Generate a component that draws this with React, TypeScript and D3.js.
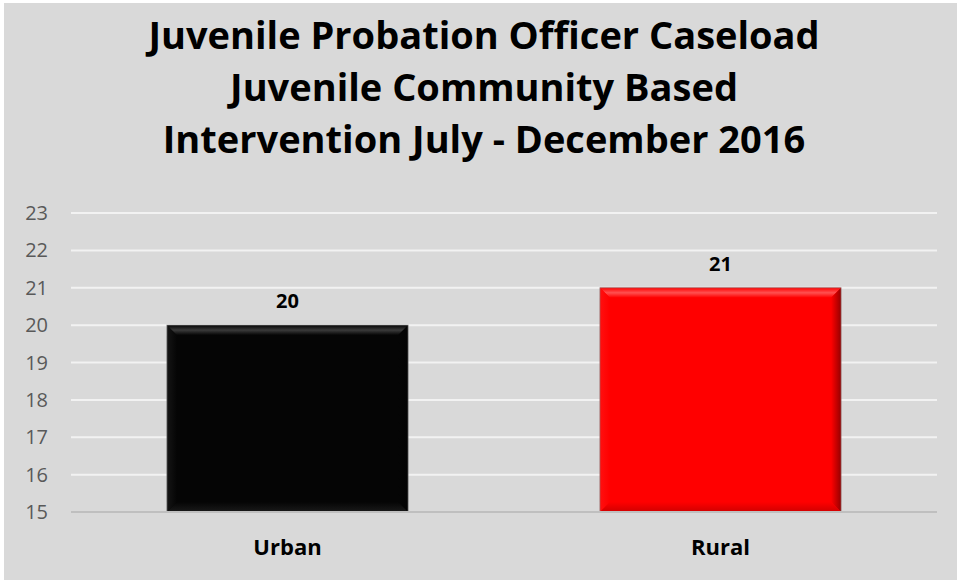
import React from "react";
import * as d3 from "d3";

const categories = ["Urban", "Rural"];
const values = [20, 21];
const barColors = ["#050505", "#ff0000"];
const yTicks = [15, 16, 17, 18, 19, 20, 21, 22, 23];
const titleLines = [
  "Juvenile Probation Officer Caseload",
  "Juvenile Community Based",
  "Intervention July - December 2016",
];

const W = 957;
const H = 580;
const plotLeft = 71;
const plotRight = 937;
const plotTop = 213;
const plotBottom = 512;

export default function App() {
  const x = d3.scaleBand<string>().domain(categories).range([plotLeft, plotRight]).paddingInner(0.443).paddingOuter(0.2215);
  const y = d3.scaleLinear().domain([15, 23]).range([plotBottom, plotTop]);
  const font = "'Open Sans', 'DejaVu Sans', sans-serif";
  const bev = 10;

  return (
    <svg width={W} height={H} style={{ position: "absolute", left: 0, top: 0, display: "block" }}>
      <defs>
        {barColors.map((c, i) => {
          const base = d3.color(c)!.formatHex();
          const dark = d3.rgb(c).darker(1.5).formatHex();
          return (
            <React.Fragment key={i}>
              <linearGradient id={`top${i}`} x1="0" y1="0" x2="0" y2="1">
                <stop offset="0" stopColor={base} />
                <stop offset="0.5" stopColor={i === 0 ? "#3a3a3a" : "#ff5050"} />
                <stop offset="1" stopColor={base} />
              </linearGradient>
              <linearGradient id={`right${i}`} x1="0" y1="0" x2="1" y2="0">
                <stop offset="0" stopColor={base} />
                <stop offset="1" stopColor={dark} />
              </linearGradient>
              <linearGradient id={`left${i}`} x1="0" y1="0" x2="1" y2="0">
                <stop offset="0" stopColor={i === 0 ? "#151515" : "#ff1010"} />
                <stop offset="1" stopColor={base} />
              </linearGradient>
              <linearGradient id={`bottom${i}`} x1="0" y1="0" x2="0" y2="1">
                <stop offset="0" stopColor={base} />
                <stop offset="1" stopColor={i === 0 ? "#1a1a1a" : "#d00000"} />
              </linearGradient>
            </React.Fragment>
          );
        })}
      </defs>
      <rect x={0} y={0} width={W} height={H} fill="#ffffff" />
      <rect x={4} y={3} width={W - 4} height={H - 3} fill="#d9d9d9" />

      <g fontFamily={font} fontWeight={700} fontSize={38} fill="#000" textAnchor="middle">
        {titleLines.map((t, i) => (
          <text key={i} x={484} y={49 + i * 52}>
            {t}
          </text>
        ))}
      </g>

      {yTicks.map((t) => (
        <g key={t}>
          {t !== 15 && (
            <line x1={plotLeft} x2={plotRight} y1={y(t)} y2={y(t)} stroke="#f2f2f2" strokeWidth={2} />
          )}
          <text
            x={48}
            y={y(t)}
            dy="0.35em"
            textAnchor="end"
            fontFamily={font}
            fontSize={20}
            fill="#595959"
          >
            {t}
          </text>
        </g>
      ))}

      {categories.map((c, i) => {
        const x0 = x(c)!;
        const w = x.bandwidth();
        const y0 = y(values[i]);
        const y1 = y(15);
        const x1 = x0 + w;
        return (
          <g key={c}>
            <rect x={x0} y={y0} width={w} height={y1 - y0} fill={barColors[i]} />
            <polygon points={`${x0},${y0} ${x1},${y0} ${x1 - bev},${y0 + bev} ${x0 + bev},${y0 + bev}`} fill={`url(#top${i})`} />
            <polygon points={`${x1},${y0} ${x1},${y1} ${x1 - bev},${y1 - bev} ${x1 - bev},${y0 + bev}`} fill={`url(#right${i})`} />
            <polygon points={`${x0},${y0} ${x0 + bev},${y0 + bev} ${x0 + bev},${y1 - bev} ${x0},${y1}`} fill={`url(#left${i})`} />
            <polygon points={`${x0},${y1} ${x0 + bev},${y1 - bev} ${x1 - bev},${y1 - bev} ${x1},${y1}`} fill={`url(#bottom${i})`} />
            <rect x={x0} y={y0} width={w} height={y1 - y0} fill="none" stroke="#7f7f7f" strokeOpacity={0.6} strokeWidth={1} />
            <text
              x={x0 + w / 2}
              y={y0 - 24}
              dy="0.35em"
              textAnchor="middle"
              fontFamily={font}
              fontWeight={700}
              fontSize={20}
              fill="#000"
            >
              {values[i]}
            </text>
            <text
              x={x0 + w / 2}
              y={555}
              textAnchor="middle"
              fontFamily={font}
              fontWeight={700}
              fontSize={22}
              fill="#000"
            >
              {c}
            </text>
          </g>
        );
      })}

      <line x1={plotLeft} x2={plotRight} y1={y(15)} y2={y(15)} stroke="#bfbfbf" strokeWidth={2} />
    </svg>
  );
}
